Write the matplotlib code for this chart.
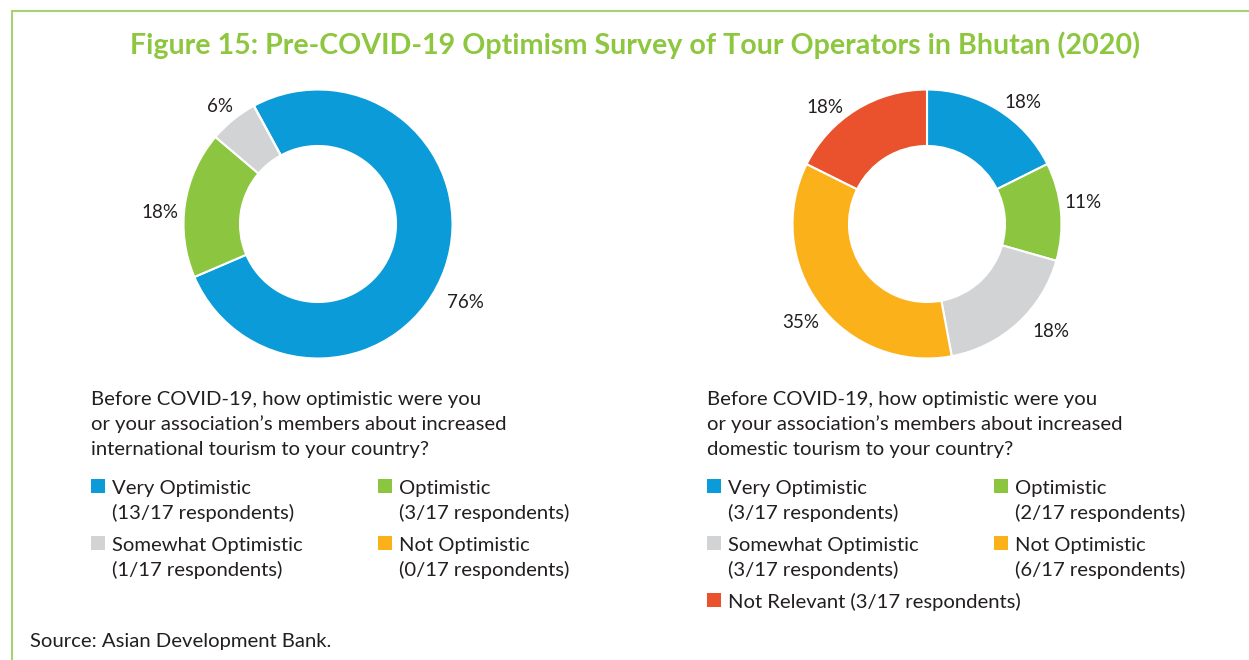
import matplotlib
matplotlib.use("Agg")
import numpy as np
import matplotlib.pyplot as plt
from matplotlib.patches import Rectangle
from matplotlib.lines import Line2D

# data
categories = ["Very Optimistic", "Optimistic", "Somewhat Optimistic", "Not Optimistic", "Not Relevant"]
intl_counts = [13, 3, 1, 0]
dom_counts = [3, 2, 3, 6, 3]
total = 17
intl_pct_labels = ["76%", "18%", "6%", ""]
dom_pct_labels = ["18%", "11%", "18%", "35%", "18%"]
colors = ["#0a9bd8", "#8cc640", "#d1d3d4", "#fbb11a", "#e9522c"]

title = "Figure 15: Pre-COVID-19 Optimism Survey of Tour Operators in Bhutan (2020)"
intl_question = ["Before COVID-19, how optimistic were you",
                 "or your association\u2019s members about increased",
                 "international tourism to your country?"]
dom_question = ["Before COVID-19, how optimistic were you",
                "or your association\u2019s members about increased",
                "domestic tourism to your country?"]
source = "Source: Asian Development Bank."

TEXT = "#231f20"
plt.rcParams["font.family"] = ["Lato", "DejaVu Sans"]

W, H = 1249, 660
fig = plt.figure(figsize=(W / 100, H / 100), dpi=100)


def fx(px):
    return px / W


def fy(py):
    return 1 - py / H


# green frame (top and left edges)
frame = "#a6d36f"
fig.add_artist(Line2D([fx(12), fx(W)], [fy(11), fy(11)], color=frame, lw=1.5,
                      transform=fig.transFigure))
fig.add_artist(Line2D([fx(12), fx(12)], [fy(11), 0], color=frame, lw=1.5,
                      transform=fig.transFigure))

fig.text(fx(635), fy(54), title, color="#8dc63f", fontsize=20.6, fontweight="bold",
         ha="center", va="baseline")


def donut(cx, cy, counts, pct_labels, startangle, label_r, label_nudge):
    R = 134.5
    ax = fig.add_axes([fx(cx - R), fy(cy + R), 2 * R / W, 2 * R / H])
    wedges, texts = ax.pie(counts, colors=colors[:len(counts)], radius=1,
                           startangle=startangle, counterclock=False,
                           labels=pct_labels, labeldistance=1.18,
                           wedgeprops=dict(width=0.42, edgecolor="white", linewidth=1.5),
                           textprops=dict(color=TEXT, fontsize=13.5))
    # place labels around each wedge's mid angle, as the original layout does
    for w, t, r, da in zip(wedges, texts, label_r, label_nudge):
        mid = np.deg2rad((w.theta1 + w.theta2) / 2 + da)
        t.set_position((r * np.cos(mid), r * np.sin(mid)))
        t.set_ha("center")
        t.set_va("center")
    ax.set_xlim(-1, 1)
    ax.set_ylim(-1, 1)
    ax.axis("off")
    return ax


donut(318, 224, intl_counts, intl_pct_labels, 118.5,
      [1.24, 1.18, 1.14, 1.1], [-9, 4.5, 0.7, 0])
donut(927, 224, dom_counts, dom_pct_labels, 90,
      [1.15, 1.17, 1.22, 1.19, 1.15], [-6.6, 2.7, 6.5, 0.7, 9.5])

body = 14.6


def question(x, lines):
    for i, line in enumerate(lines):
        fig.text(fx(x), fy(405 + 25 * i), line, color=TEXT, fontsize=body, va="baseline")


question(91, intl_question)
question(707, dom_question)


def legend(x0, counts):
    for i, n in enumerate(counts):
        if i < 4:
            col, row = i % 2, i // 2
            lines = [categories[i], f"({n}/{total} respondents)"]
        else:
            col, row = 0, 2
            lines = [f"{categories[i]} ({n}/{total} respondents)"]
        sx = x0 + 287 * col
        sy = 479 + 57 * row
        fig.add_artist(Rectangle((fx(sx), fy(sy + 14)), 14 / W, 14 / H,
                                 facecolor=colors[i], edgecolor="none",
                                 transform=fig.transFigure))
        for k, line in enumerate(lines):
            fig.text(fx(sx + 21), fy(sy + 15 + 25 * k), line, color=TEXT, fontsize=body,
                     va="baseline", ha="left")


legend(91, intl_counts)
legend(707, dom_counts)

fig.text(fx(30), fy(647), source, color=TEXT, fontsize=body, va="baseline")

fig.savefig("out.png", dpi=100)
